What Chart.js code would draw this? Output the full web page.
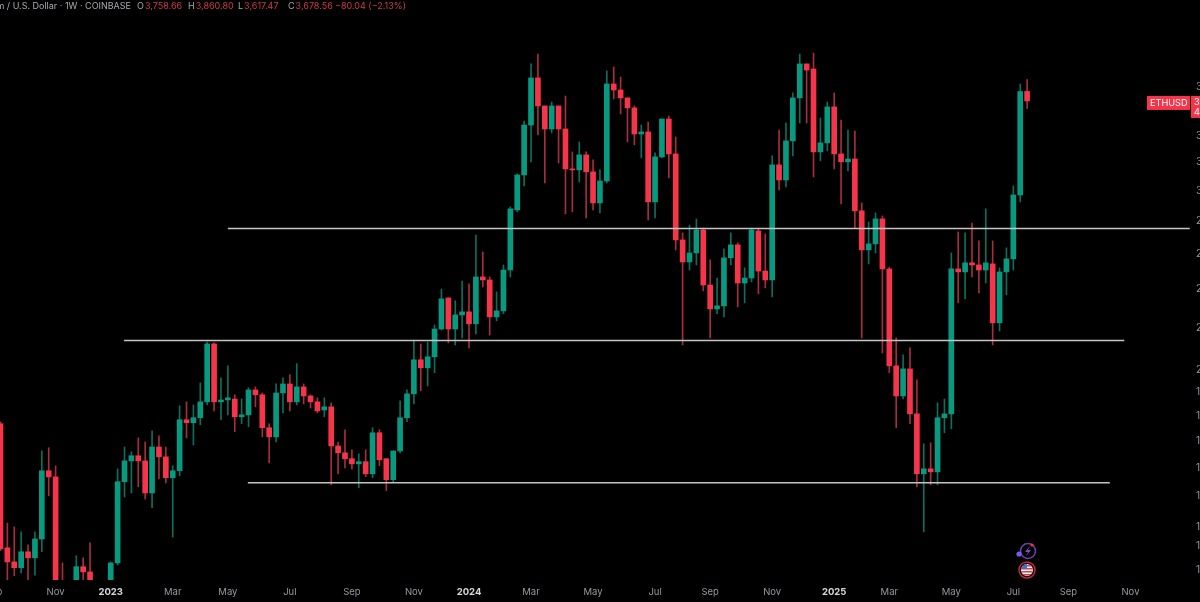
<!DOCTYPE html>
<html>
<head>
<meta charset="utf-8">
<title>ETHUSD 1W</title>
<script src="https://cdn.jsdelivr.net/npm/chart.js@4"></script>
<style>
  html, body { margin: 0; padding: 0; background: #000; overflow: hidden; width: 1200px; height: 602px; }
  canvas { display: block; }
</style>
</head>
<body>
<canvas id="ethChart" width="1260" height="602" style="width:1260px;height:602px"></canvas>
<script>
// weekly candles (first visible week = index 0)
const opens = [1769,1335,1293,1276,1323,1305,1362,1590,1568,1213,1199,1235,1279,1264,1230,1213,1235,1290,1551,1626,
  1645,1626,1512,1678,1641,1565,1590,1785,1773,1793,1859,2120,1859,1867,1871,1797,1805,1910,1889,1753,
  1717,1897,1936,1859,1923,1884,1859,1825,1838,1682,1656,1634,1615,1623,1579,1733,1634,1558,1663,1793,
  1893,2045,2008,2059,2193,2353,2193,2264,2280,2219,2468,2451,2254,2285,2507,2873,3110,3483,3876,3637,
  3452,3637,3452,3153,3146,3255,3132,2919,3068,3823,3771,3704,3621,3413,3429,2926,3240,3531,3262,2684,
  2553,2606,2745,2423,2295,2311,2577,2654,2434,2462,2739,2501,2451,3182,3075,3360,3704,4001,3955,3277,
  3345,3629,3262,3204,3225,2867,2624,2660,2815,2513,2017,1884,2003,1809,1579,1597,1586,1793,1809,2513,
  2496,2548,2536,2507,2542,2224,2496,2571,2972,3758.66];
const highs = [1777,1412,1400,1384,1344,1384,1663,1675,1608,1290,1227,1311,1305,1350,1235,1235,1293,1597,1678,1660,
  1713,1697,1741,1721,1678,1608,1842,1859,1846,1941,2129,2125,1963,2017,1889,1871,1919,1923,1897,1769,
  1936,1963,1977,2027,1936,1889,1876,1876,1855,1697,1745,1667,1652,1667,1753,1745,1634,1663,1863,1910,
  2139,2120,2129,2213,2401,2353,2338,2445,2429,2714,2612,2468,2385,2536,2893,3118,3515,4001,4092,3637,
  3670,3637,3720,3277,3352,3277,3218,3146,3937,3973,3884,3704,3637,3483,3507,3270,3531,3555,3390,2727,
  2776,2814,2757,2565,2462,2630,2727,2666,2519,2757,2757,2721,3248,3444,3499,3746,4092,4001,4101,3539,
  3670,3746,3523,3444,3436,2919,2795,2854,2834,2524,2149,2068,2101,1954,1690,1694,1855,1871,2606,2733,
  2727,2789,2678,2880,2678,2519,2636,3034,3823,3860.80];
const lows = [1326,1241,1253,1261,1241,1255,1323,1502,1120,1159,1172,1213,1241,1213,1186,1186,1213,1284,1498,1512,
  1533,1491,1462,1561,1547,1368,1572,1713,1686,1765,1846,1821,1785,1805,1737,1769,1757,1838,1717,1619,
  1697,1813,1821,1846,1850,1833,1813,1797,1540,1579,1600,1597,1530,1569,1565,1608,1520,1547,1656,1777,
  1850,1906,1927,1986,2188,2125,2115,2149,2101,2168,2412,2163,2234,2270,2468,2860,3034,3204,3405,3054,
  3421,3196,2847,2860,3061,2821,2873,2854,3054,3695,3572,3352,3330,3233,2808,2821,3233,3089,2624,2115,
  2507,2536,2391,2149,2270,2254,2536,2306,2327,2440,2375,2407,2359,3006,3027,3248,3499,3499,3096,3211,
  3285,3153,2913,3139,2757,2149,2542,2606,2077,1986,1753,1871,1769,1533,1384,1540,1540,1733,1749,2327,
  2348,2468,2380,2434,2115,2183,2370,2507,2926,3617.47];
const closes = [1332,1293,1276,1323,1305,1362,1590,1568,1186,1199,1213,1279,1264,1235,1213,1230,1290,1551,1626,1645,
  1626,1512,1678,1641,1565,1590,1785,1773,1793,1859,2120,1859,1867,1876,1797,1805,1910,1889,1753,1717,
  1897,1936,1859,1923,1884,1859,1821,1838,1682,1656,1634,1615,1623,1579,1733,1630,1558,1663,1793,1893,
  2045,2008,2059,2193,2348,2193,2264,2280,2219,2468,2451,2254,2285,2507,2880,3110,3483,3876,3637,3452,
  3637,3452,3153,3146,3255,3132,2919,3068,3823,3771,3704,3621,3413,3429,2926,3240,3531,3262,2684,2553,
  2606,2745,2423,2295,2311,2577,2654,2434,2462,2745,2501,2451,3182,3075,3360,3704,4001,3946,3277,3345,
  3629,3262,3204,3225,2867,2624,2660,2815,2513,2017,1884,2003,1809,1579,1597,1586,1793,1809,2513,2496,
  2548,2536,2507,2548,2224,2496,2571,2972,3758,3678.56];

// x axis: week index of each date label
const xTickWeeks = [-1,8,16,25,33,42,51,60,68,77,86,95,103,112,121,129,138,147,155,164];
const xTickLabels = ['Sep','Nov','2023','Mar','May','Jul','Sep','Nov','2024','Mar','May','Jul','Sep','Nov','2025','Mar','May','Jul','Sep','Nov'];
// price axis (mostly cut off by the right edge of the screenshot)
const yTicks = [3800,3400,3200,3000,2800,2600,2400,2200,2000,1900,1800,1700,1600,1500,1400,1340,1270];

// the three drawn horizontal levels: start week, end week, price
const levelStart = [33, 17.93, 35.9];
const levelEnd = [172.6, 163.1, 161];
const levelPrice = [2754, 2137, 1547];

const upColor = '#089981';
const downColor = '#f7354a';
const upWick = '#0b6f5d';
const downWick = '#a52f3e';
const fontName = 'Inter, Roboto, sans-serif';

const weeks = opens.map((o, i) => i);

const wickData = weeks.map(i => ({ x: i, y: [lows[i], highs[i]] }));
const bodyData = weeks.map(i => ({ x: i, y: [opens[i], closes[i]] }));

const isYear = ctx => !!ctx.tick && String(ctx.tick.label).startsWith('20');

const levelSets = levelPrice.map((p, k) => ({
    type: 'line',
    data: [{ x: levelStart[k], y: p }, { x: levelEnd[k], y: p }],
    borderColor: '#c4c4c4',
    borderWidth: 1.5,
    pointRadius: 0,
    order: 1
}));

// overlay: header text, price tags, two little icons
const overlay = {
    id: 'overlay',
    afterDraw(chart) {
        const c = chart.ctx;
        const yy = chart.scales.y.getPixelForValue(closes[closes.length - 1]);
        c.save();

        // header
        const grey = '#a6a9b0', red = '#cf3a49';
        c.font = '9px ' + fontName;
        c.textBaseline = 'middle';
        c.textAlign = 'right';
        c.fillStyle = grey;
        c.fillText('Ethereum / U.S. Dollar · 1W · COINBASE', 131, 6);
        c.textAlign = 'left';
        [['O', '3,758.66', 137], ['H', '3,860.80', 188], ['L', '3,617.47', 238], ['C', '3,678.56', 288]].forEach(p => {
            c.fillStyle = grey;
            c.fillText(p[0], p[2], 6);
            c.fillStyle = red;
            c.fillText(p[1], p[2] + c.measureText(p[0]).width + 1, 6);
        });
        c.fillText('−80.04 (−2.13%)', 335, 6);

        // price tags
        c.fillStyle = downColor;
        c.fillRect(1147, yy - 5, 43, 14);
        c.fillRect(1191, yy - 5, 40, 22);
        c.fillStyle = '#fff';
        c.font = '9.2px ' + fontName;
        c.fillText('ETHUSD', 1150, yy + 2);
        c.fillText('3,678.56', 1194, yy + 1);
        c.fillText('4d 2h', 1194, yy + 11);

        // lightning badge
        c.strokeStyle = '#6b3fa8';
        c.lineWidth = 1.6;
        c.beginPath(); c.arc(1028, 551, 7.5, 0, Math.PI * 2); c.stroke();
        c.fillStyle = '#7a4fd0';
        c.beginPath();
        c.moveTo(1030, 546); c.lineTo(1025, 552); c.lineTo(1028, 552);
        c.lineTo(1026, 556); c.lineTo(1031, 550); c.lineTo(1028, 550);
        c.closePath(); c.fill();
        c.fillStyle = '#6f5cf0';
        c.beginPath(); c.arc(1019, 554, 2.6, 0, Math.PI * 2); c.fill();
        c.fillStyle = '#f23645';
        c.beginPath(); c.arc(1032, 545, 1.6, 0, Math.PI * 2); c.fill();

        // flag badge
        c.beginPath(); c.arc(1027, 570, 8, 0, Math.PI * 2);
        c.fillStyle = '#000'; c.fill();
        c.strokeStyle = '#c9283a'; c.lineWidth = 1.5; c.stroke();
        c.save();
        c.beginPath(); c.arc(1027, 570, 6, 0, Math.PI * 2); c.clip();
        c.fillStyle = '#f1f1f1'; c.fillRect(1020, 563, 14, 14);
        c.fillStyle = '#d8404c';
        c.fillRect(1020, 565, 14, 1.5);
        c.fillRect(1020, 568, 14, 1.5);
        c.fillRect(1020, 571, 14, 1.5);
        c.fillRect(1020, 574, 14, 1.5);
        c.fillStyle = '#3f6fc4'; c.fillRect(1020, 563, 7, 6);
        c.restore();

        c.restore();
    }
};

new Chart(document.getElementById('ethChart').getContext('2d'), {
    data: {
        datasets: [
            {
                type: 'bar',
                data: wickData,
                barThickness: 1,
                backgroundColor: weeks.map(i => closes[i] >= opens[i] ? upWick : downWick),
                grouped: false,
                order: 3
            },
            {
                type: 'bar',
                data: bodyData,
                barThickness: 5,
                backgroundColor: weeks.map(i => closes[i] >= opens[i] ? upColor : downColor),
                grouped: false,
                order: 2
            },
            ...levelSets
        ]
    },
    options: {
        responsive: false,
        animation: false,
        events: [],
        layout: { padding: 0, autoPadding: false },
        plugins: { legend: { display: false }, tooltip: { enabled: false } },
        scales: {
            x: {
                type: 'linear',
                offset: false,
                min: -0.07,
                max: 172.93,
                grid: { display: false, drawTicks: false },
                border: { display: false },
                afterBuildTicks(s) { s.ticks = xTickWeeks.map(v => ({ value: v })); },
                afterFit(s) { s.height = 22; s.paddingLeft = 0; s.paddingRight = 0; },
                ticks: {
                    autoSkip: false,
                    maxRotation: 0,
                    padding: 6,
                    callback: (v, i) => xTickLabels[i],
                    color: ctx => isYear(ctx) ? '#d6d8dc' : '#9598a1',
                    font: ctx => ({
                        family: fontName,
                        size: 9.5,
                        weight: isYear(ctx) ? '700' : '400'
                    })
                }
            },
            y: {
                type: 'logarithmic',
                position: 'right',
                min: 1241,
                max: 4625,
                grid: { display: false, drawTicks: false },
                border: { display: false },
                afterBuildTicks(s) { s.ticks = yTicks.map(v => ({ value: v })); },
                afterFit(s) { s.width = 68; s.paddingTop = 0; s.paddingBottom = 0; },
                ticks: {
                    padding: 4,
                    color: '#9598a1',
                    font: { family: fontName, size: 10 },
                    callback: v => v.toLocaleString('en-US', { minimumFractionDigits: 2 })
                }
            }
        }
    },
    plugins: [overlay]
});
</script>
</body>
</html>
